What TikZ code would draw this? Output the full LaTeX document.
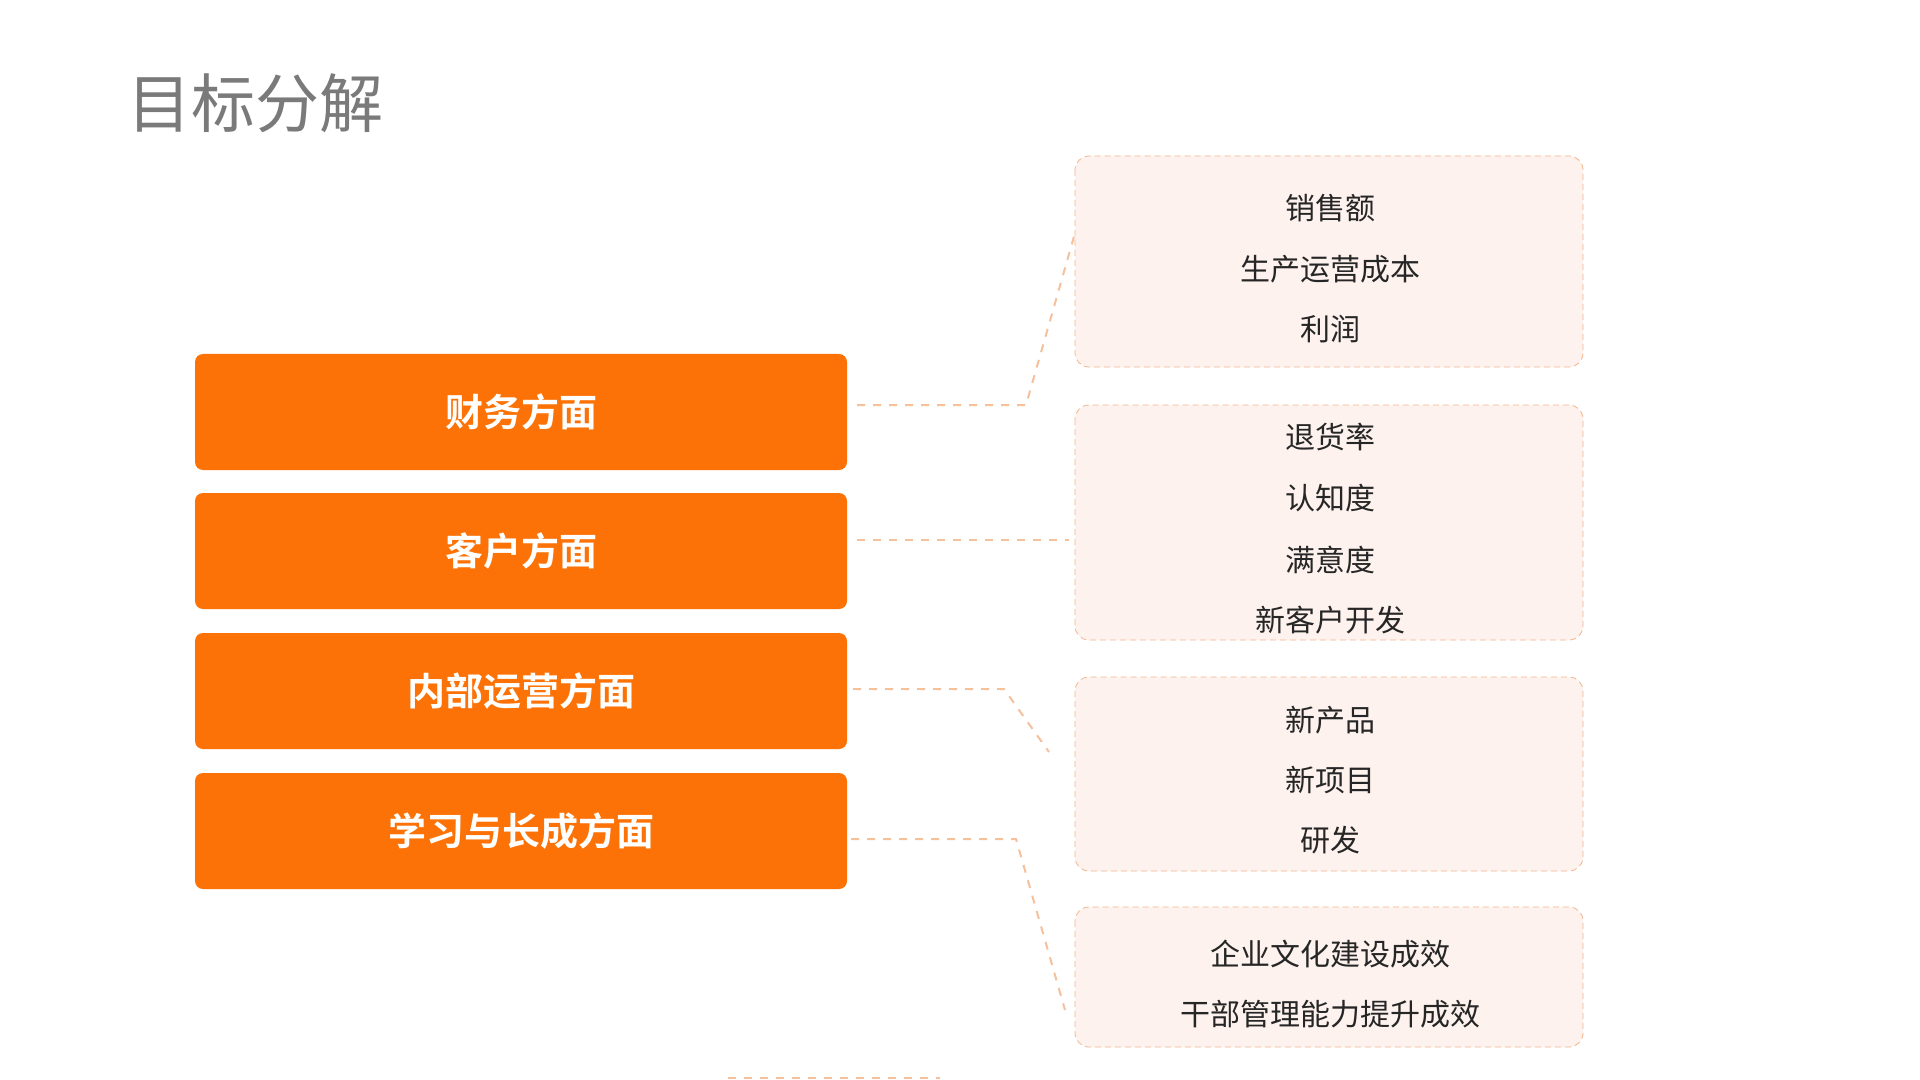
\documentclass[tikz,border=0pt]{standalone}
\usepackage{fontspec}
\newfontfamily\cjk{Noto Sans CJK SC}
\newfontfamily\cjkb{Noto Sans CJK SC Bold}
\begin{document}
\begin{tikzpicture}[x=0.5pt,y=-0.5pt,
  cat/.style={fill=orangeM,rounded corners=4pt,inner sep=0,text=white,font=\cjkb\fontsize{19}{22}\selectfont},
  item/.style={fill=pinkF,draw=lineO,densely dashed,line width=0.4pt,rounded corners=7pt},
  itxt/.style={font=\cjk\fontsize{15}{18}\selectfont,text=black!85,anchor=center},
  conn/.style={draw=lineO!85,line width=1pt,dash pattern=on 4pt off 4pt}]
\definecolor{orangeM}{HTML}{FC7206}
\definecolor{pinkF}{HTML}{FDF2EE}
\definecolor{lineO}{HTML}{F4B58C}
\useasboundingbox[fill=white] (0,0) rectangle (1920,1080);
\node[font=\cjk\fontsize{32}{36}\selectfont,text=black!52,anchor=west] (title) at (120,103) {目标分解};
% categories
\foreach \n/\t/\y in {c1/财务方面/412,c2/客户方面/551,c3/内部运营方面/691,c4/学习与长成方面/831}{
  \node[cat,minimum width=326pt,minimum height=58pt] (\n) at (521,\y) {\t};
}
% item boxes
\draw[item] (1075,156) rectangle (1583,367);
\draw[item] (1075,405) rectangle (1583,640);
\draw[item] (1075,677) rectangle (1583,871);
\draw[item] (1075,907) rectangle (1583,1047);
\foreach \n/\t/\y in {a1/销售额/208,a2/生产运营成本/269,a3/利润/329,
  b1/退货率/437,b2/认知度/498,b3/满意度/560,b4/新客户开发/620,
  d1/新产品/720,d2/新项目/780,d3/研发/840,
  e1/企业文化建设成效/954,e2/干部管理能力提升成效/1014}{
  \node[itxt] (\n) at (1330,\y) {\t};
}
\coordinate (p1a) at (857,405); \coordinate (p1b) at (1026,405); \coordinate (p1c) at (1075,233);
\coordinate (p2a) at (857,540); \coordinate (p2b) at (1069,540);
\coordinate (p3a) at (853,689); \coordinate (p3b) at (1004,689); \coordinate (p3c) at (1049,752);
\coordinate (p4a) at (851,839); \coordinate (p4b) at (1016,839); \coordinate (p4c) at (1065,1010);
\coordinate (bl1) at (728,1078); \coordinate (bl2) at (940,1078);
\draw[conn] (p1a) -- (p1b) -- (p1c);
\draw[conn] (p2a) -- (p2b);
\draw[conn] (p3a) -- (p3b) -- (p3c);
\draw[conn] (p4a) -- (p4b) -- (p4c);
\draw[conn] (bl1) -- (bl2);
\end{tikzpicture}
\end{document}
